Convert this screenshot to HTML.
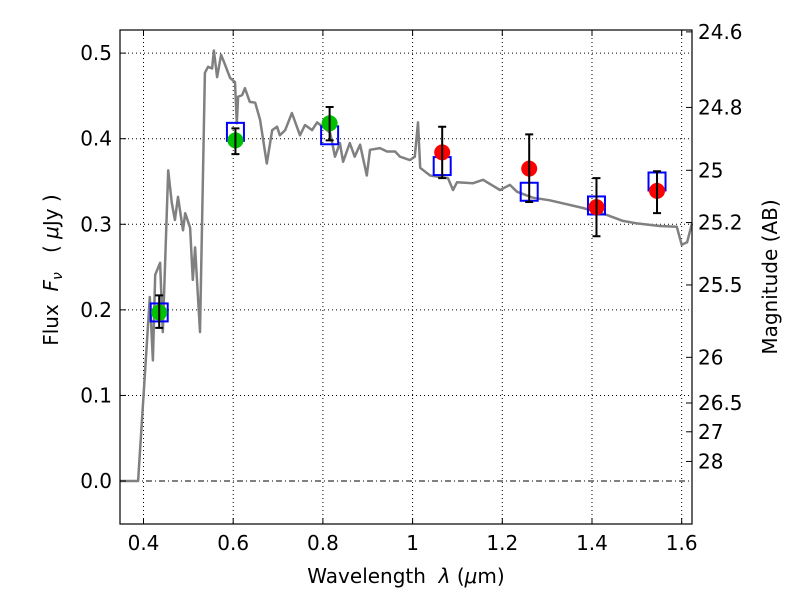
<!DOCTYPE html>
<html><head><meta charset="utf-8">
<style>
body{margin:0;background:#fff;}
svg text{font-family:"DejaVu Sans","Liberation Sans",sans-serif;fill:#000;white-space:pre;}
</style></head>
<body>
<svg id="chart" width="800" height="600" viewBox="0 0 800 600" xmlns="http://www.w3.org/2000/svg">
<rect width="800" height="600" fill="#fff"/>
<g id="grid"></g>
<g id="plot"></g>
<rect x="120" y="30" width="572" height="494" fill="none" stroke="#000" stroke-width="1.2"/>
<g id="axes"></g>
<text x="406" y="583" font-size="20" text-anchor="middle">Wavelength  <tspan font-style="italic">λ</tspan> (<tspan font-style="italic">μ</tspan>m)</text>
<text transform="translate(58,270) rotate(-90)" font-size="20" text-anchor="middle">Flux  <tspan font-style="italic">F<tspan font-size="14" dy="4">ν</tspan></tspan><tspan dy="-4">   ( </tspan><tspan font-style="italic">μ</tspan>Jy )</text>
<text transform="translate(777,277) rotate(-90)" font-size="20" text-anchor="middle">Magnitude (AB)</text>
</svg>
<script>
const xTicks=[0.4,0.6,0.8,1.0,1.2,1.4,1.6];
const xTickLabels=["0.4","0.6","0.8","1","1.2","1.4","1.6"];
const yTicks=[0.0,0.1,0.2,0.3,0.4,0.5];
const yTickLabels=["0.0","0.1","0.2","0.3","0.4","0.5"];
const magTicks=[24.6,24.8,25,25.2,25.5,26,26.5,27,28];
const magTickLabels=["24.6","24.8","25","25.2","25.5","26","26.5","27","28"];
const specWave=[0.3476,0.388,0.414,0.421,0.426,0.437,0.443,0.455,0.463,0.470,0.477,0.488,0.493,0.504,0.510,0.515,0.526,0.537,0.544,0.553,0.557,0.564,0.573,0.580,0.593,0.604,0.608,0.611,0.620,0.626,0.637,0.649,0.660,0.675,0.687,0.698,0.704,0.716,0.731,0.749,0.760,0.776,0.787,0.816,0.827,0.838,0.845,0.860,0.871,0.883,0.898,0.905,0.927,0.943,0.961,0.972,0.994,1.005,1.012,1.017,1.039,1.079,1.090,1.099,1.135,1.157,1.195,1.217,1.233,1.268,1.306,1.380,1.433,1.469,1.500,1.551,1.589,1.600,1.612,1.623];
const specFlux=[0,0,0.215,0.141,0.241,0.255,0.174,0.363,0.325,0.305,0.332,0.293,0.313,0.296,0.235,0.273,0.174,0.477,0.484,0.482,0.503,0.472,0.498,0.489,0.471,0.466,0.418,0.449,0.451,0.459,0.443,0.442,0.422,0.371,0.410,0.414,0.404,0.410,0.430,0.404,0.416,0.410,0.419,0.407,0.379,0.395,0.373,0.395,0.379,0.393,0.357,0.387,0.389,0.385,0.385,0.379,0.375,0.379,0.419,0.366,0.357,0.354,0.340,0.349,0.348,0.352,0.340,0.346,0.338,0.331,0.328,0.319,0.311,0.304,0.301,0.298,0.297,0.276,0.279,0.301];
const obsWave=[0.435,0.605,0.815,1.066,1.260,1.410,1.545];
const obsFlux=[0.197,0.398,0.418,0.384,0.365,0.320,0.339];
const obsLo=[0.179,0.382,0.398,0.354,0.326,0.286,0.313];
const obsHi=[0.217,0.412,0.437,0.414,0.405,0.354,0.362];
const obsColor=["#00c000","#00c000","#00c000","#ff0000","#ff0000","#ff0000","#ff0000"];
const modelFlux=[0.197,0.408,0.404,0.368,0.338,0.322,0.350];

const X0=120,X1=692,Y0=30,Y1=524,xmin=0.3476,xmax=1.623,ymin=-0.0502,ymax=0.527;
const sx=v=>X0+(v-xmin)/(xmax-xmin)*(X1-X0);
const sy=v=>Y1-(v-ymin)/(ymax-ymin)*(Y1-Y0);
const magToFlux=m=>Math.pow(10,(23.9-m)/2.5);
const NS="http://www.w3.org/2000/svg";
function mk(tag,attrs,parent){const e=document.createElementNS(NS,tag);for(const k in attrs)e.setAttribute(k,attrs[k]);parent.appendChild(e);return e;}
const grid=document.getElementById('grid'),plot=document.getElementById('plot'),axes=document.getElementById('axes');

xTicks.forEach((t,i)=>{const x=sx(t);
 const g=mk('line',{x1:x,x2:x,y1:Y0,y2:Y1,stroke:'#000','stroke-width':1,'stroke-dasharray':'1,3'},grid);
 
 
 mk('line',{x1:x,x2:x,y1:Y1,y2:Y1-6,stroke:'#000'},axes);
 mk('line',{x1:x,x2:x,y1:Y0,y2:Y0+6,stroke:'#000'},axes);
 const tx=mk('text',{x:x,y:Y1+26,'font-size':20,'text-anchor':'middle'},axes);tx.textContent=xTickLabels[i];
 
 
});
yTicks.forEach((t,i)=>{const y=sy(t);
 const g=mk('line',{x1:X0,x2:X1,y1:y,y2:y,stroke:'#000','stroke-width':1,'stroke-dasharray':t===0?'6,3,1,3':'1,3'},grid);
 
 
 mk('line',{x1:X0,x2:X0+6,y1:y,y2:y,stroke:'#000'},axes);
 const tx=mk('text',{x:X0-8,y:y+7,'font-size':20,'text-anchor':'end'},axes);tx.textContent=yTickLabels[i];
 
 
});
magTicks.forEach((m,i)=>{const y=sy(magToFlux(m));
 mk('line',{x1:X1-6,x2:X1,y1:y,y2:y,stroke:'#000'},axes);
 const tx=mk('text',{x:X1+6,y:y+7,'font-size':20},axes);tx.textContent=magTickLabels[i];
 
 
});

const d=specWave.map((w,i)=>(i?'L':'M')+sx(w).toFixed(1)+','+sy(specFlux[i]).toFixed(1)).join(' ');
const sp=mk('path',{d:d,fill:'none',stroke:'#808080','stroke-width':2.5,'stroke-linejoin':'round'},plot);



obsWave.forEach((w,i)=>{const x=sx(w);
 const r=mk('rect',{x:x-8.5,y:sy(modelFlux[i])-9,width:17,height:18,fill:'none',stroke:'#0000ff','stroke-width':2},plot);
 
 
});
obsWave.forEach((w,i)=>{const x=sx(w);
 const c=mk('circle',{cx:x,cy:sy(obsFlux[i]),r:8,fill:obsColor[i]},plot);
 
 
 const e=mk('path',{d:`M${x},${sy(obsLo[i])}V${sy(obsHi[i])}M${x-4},${sy(obsLo[i])}H${x+4}M${x-4},${sy(obsHi[i])}H${x+4}`,stroke:'#000','stroke-width':2,fill:'none'},plot);
 
 
});
</script>
</body></html>
